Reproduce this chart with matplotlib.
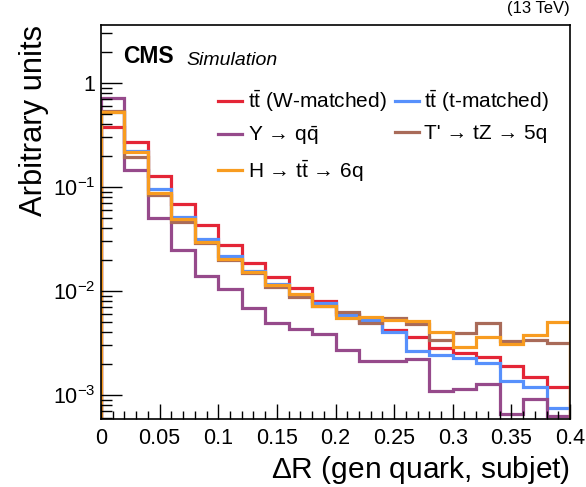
import numpy as np
import matplotlib
matplotlib.use("Agg")
import matplotlib.pyplot as plt
from matplotlib.ticker import LogLocator, FuncFormatter, MultipleLocator
from matplotlib.lines import Line2D

plt.rcParams['font.family'] = ['Liberation Sans', 'DejaVu Sans']
plt.rcParams['mathtext.fontset'] = 'custom'
plt.rcParams['mathtext.rm'] = 'Liberation Sans'
plt.rcParams['mathtext.it'] = 'Liberation Sans:italic'
plt.rcParams['mathtext.bf'] = 'Liberation Sans:bold'

bin_edges = np.round(np.arange(0, 0.4001, 0.02), 3)

tt_w = [0.38, 0.269, 0.126, 0.0687, 0.0425, 0.0277, 0.0187, 0.0137, 0.0106, 0.0080,
        0.0060, 0.0050, 0.0042, 0.00359, 0.00281, 0.0025, 0.0023, 0.00191, 0.0015, 0.0012]
tt_t = [0.53, 0.223, 0.0957, 0.051, 0.0316, 0.0214, 0.0156, 0.0116, 0.0092, 0.0076,
        0.0058, 0.00526, 0.00406, 0.00265, 0.00243, 0.00225, 0.00202, 0.00136, 0.0012, 0.00075]
y_qq = [0.71, 0.146, 0.050, 0.0248, 0.014, 0.0104, 0.00682, 0.00496, 0.00431, 0.00386,
        0.00271, 0.00212, 0.00212, 0.00222, 0.0011, 0.00113, 0.00127, 0.00066, 0.00092, 0.00062]
tp_5q = [0.54, 0.193, 0.083, 0.046, 0.029, 0.0200, 0.0148, 0.0108, 0.0088, 0.0072,
         0.0063, 0.00496, 0.0055, 0.0048, 0.00338, 0.0039, 0.00496, 0.00326, 0.00338, 0.00314]
h_6q = [0.52, 0.214, 0.087, 0.049, 0.0298, 0.0203, 0.0151, 0.0114, 0.0093, 0.0071,
        0.00546, 0.00566, 0.0052, 0.00515, 0.00406, 0.00287, 0.00359, 0.00309, 0.00378, 0.00507]

labels = [r"t$\bar{\mathrm{t}}$ (W-matched)", r"t$\bar{\mathrm{t}}$ (t-matched)",
          "Y \u2192 q$\\bar{\\mathrm{q}}$", "T' \u2192 tZ \u2192 5q",
          "H \u2192 t$\\bar{\\mathrm{t}}$ \u2192 6q"]
colors = ["#e42536", "#5790fc", "#964a8b", "#a96b59", "#f89c20"]
series = [tt_w, tt_t, y_qq, tp_5q, h_6q]

fig = plt.figure(figsize=(5.86, 4.87), dpi=100)
ax = fig.add_axes([0.1724, 0.1403, 0.8003, 0.8084])
ax.set_yscale('log')
for vals, c in zip(series, colors):
    ax.stairs(vals, bin_edges, baseline=1e-6, color=c, lw=2.3)

ax.set_xlim(0, 0.4)
ax.set_ylim(5.9e-4, 3.6)

ax.xaxis.set_major_locator(MultipleLocator(0.05))
ax.xaxis.set_minor_locator(MultipleLocator(0.01))
ax.xaxis.set_major_formatter(FuncFormatter(lambda v, p: "0" if abs(v) < 1e-9 else f"{v:g}"))
ax.yaxis.set_major_locator(LogLocator(base=10, numticks=20))
ax.yaxis.set_minor_locator(LogLocator(base=10, subs=np.arange(2, 10), numticks=20))
ax.yaxis.set_major_formatter(FuncFormatter(
    lambda v, p: "1" if abs(np.log10(v)) < 1e-6 else r"$10^{-%d}$" % int(round(-np.log10(v)))))

ax.tick_params(axis='both', which='both', direction='in', top=False, right=False, labelsize=15.5)
ax.tick_params(axis='y', which='major', length=15, width=1, pad=4)
ax.tick_params(axis='y', which='minor', length=8, width=1)
ax.tick_params(axis='x', which='major', length=11, width=1, pad=7)
ax.tick_params(axis='x', which='minor', length=6, width=1)
for s in ax.spines.values():
    s.set_linewidth(1.2)

ax.set_xlabel(r"$\Delta$R (gen quark, subjet)", fontsize=21.5, loc='right', labelpad=3)
ax.set_ylabel("Arbitrary units", fontsize=22.2, loc='top', labelpad=3)

fig.text(0.9727, 0.967, "(13 TeV)", ha='right', va='bottom', fontsize=12)
ax.text(0.047, 0.92, "CMS", transform=ax.transAxes, fontsize=16.5, fontweight='bold', ha='left', va='center')
ax.text(0.182, 0.91, "Simulation", transform=ax.transAxes, fontsize=14, style='italic', ha='left', va='center')

handles = [Line2D([], [], color=c, lw=2.3) for c in colors]
order = [0, 2, 4, 1, 3]
ax.legend([handles[i] for i in order], [labels[i] for i in order], ncol=2,
          loc='upper left', bbox_to_anchor=(0.25, 0.84), frameon=False, fontsize=15,
          handlelength=1.15, handletextpad=0.27, columnspacing=0.4, labelspacing=0.5,
          borderpad=0, borderaxespad=0)

fig.savefig("out.png", dpi=100)
